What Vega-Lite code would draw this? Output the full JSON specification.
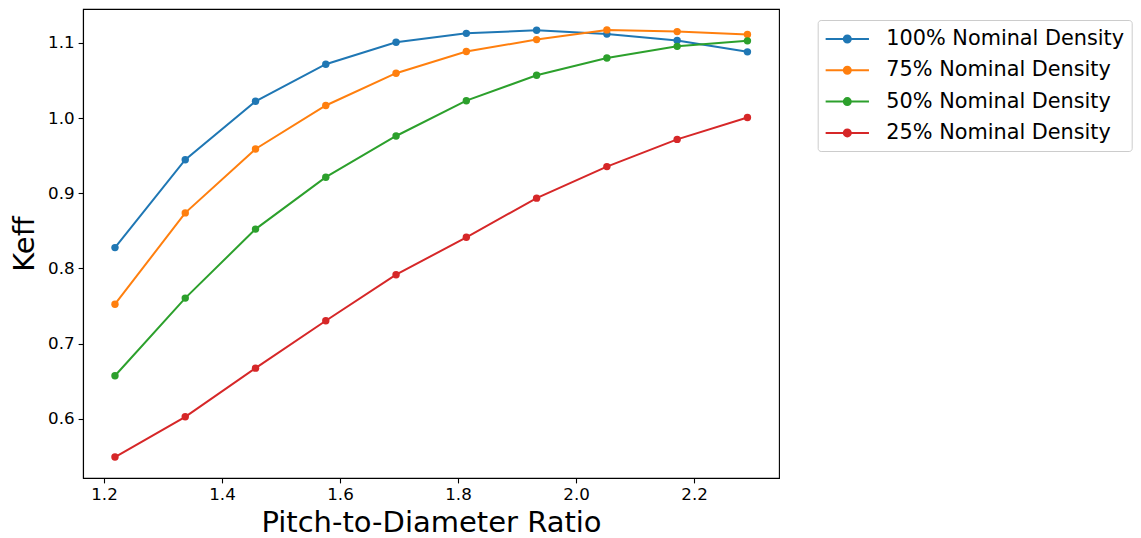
{
  "$schema": "https://vega.github.io/schema/vega-lite/v6.json",
  "width": 696,
  "height": 469,
  "autosize": {"type": "none"},
  "padding": {"left": 83, "top": 9, "right": 362, "bottom": 60},
  "background": "white",
  "config": {
    "font": "DejaVu Sans",
    "view": {"stroke": "black", "strokeWidth": 1.1},
    "axis": {
      "grid": false,
      "domainColor": "black",
      "domainWidth": 1.1,
      "tickColor": "black",
      "tickWidth": 1.1,
      "tickSize": 4.9,
      "labelPadding": 4,
      "labelFont": "DejaVu Sans",
      "labelFontSize": 16.7,
      "labelColor": "black",
      "titleFont": "DejaVu Sans",
      "titleFontSize": 29,
      "titleFontWeight": "normal",
      "titleColor": "black"
    }
  },
  "data": {
    "values": [
      {"pd": 1.2186, "keff": 0.8277, "series": "100% Nominal Density"},
      {"pd": 1.3377, "keff": 0.9447, "series": "100% Nominal Density"},
      {"pd": 1.4568, "keff": 1.0224, "series": "100% Nominal Density"},
      {"pd": 1.5759, "keff": 1.0717, "series": "100% Nominal Density"},
      {"pd": 1.6950, "keff": 1.1009, "series": "100% Nominal Density"},
      {"pd": 1.8141, "keff": 1.1128, "series": "100% Nominal Density"},
      {"pd": 1.9332, "keff": 1.1169, "series": "100% Nominal Density"},
      {"pd": 2.0523, "keff": 1.1118, "series": "100% Nominal Density"},
      {"pd": 2.1714, "keff": 1.1032, "series": "100% Nominal Density"},
      {"pd": 2.2905, "keff": 1.0882, "series": "100% Nominal Density"},
      {"pd": 1.2186, "keff": 0.7524, "series": "75% Nominal Density"},
      {"pd": 1.3377, "keff": 0.8739, "series": "75% Nominal Density"},
      {"pd": 1.4568, "keff": 0.9589, "series": "75% Nominal Density"},
      {"pd": 1.5759, "keff": 1.0168, "series": "75% Nominal Density"},
      {"pd": 1.6950, "keff": 1.0598, "series": "75% Nominal Density"},
      {"pd": 1.8141, "keff": 1.0886, "series": "75% Nominal Density"},
      {"pd": 1.9332, "keff": 1.1045, "series": "75% Nominal Density"},
      {"pd": 2.0523, "keff": 1.1174, "series": "75% Nominal Density"},
      {"pd": 2.1714, "keff": 1.1151, "series": "75% Nominal Density"},
      {"pd": 2.2905, "keff": 1.1114, "series": "75% Nominal Density"},
      {"pd": 1.2186, "keff": 0.6572, "series": "50% Nominal Density"},
      {"pd": 1.3377, "keff": 0.7605, "series": "50% Nominal Density"},
      {"pd": 1.4568, "keff": 0.8523, "series": "50% Nominal Density"},
      {"pd": 1.5759, "keff": 0.9214, "series": "50% Nominal Density"},
      {"pd": 1.6950, "keff": 0.9762, "series": "50% Nominal Density"},
      {"pd": 1.8141, "keff": 1.0232, "series": "50% Nominal Density"},
      {"pd": 1.9332, "keff": 1.0570, "series": "50% Nominal Density"},
      {"pd": 2.0523, "keff": 1.0800, "series": "50% Nominal Density"},
      {"pd": 2.1714, "keff": 1.0955, "series": "50% Nominal Density"},
      {"pd": 2.2905, "keff": 1.1028, "series": "50% Nominal Density"},
      {"pd": 1.2186, "keff": 0.5490, "series": "25% Nominal Density"},
      {"pd": 1.3377, "keff": 0.6025, "series": "25% Nominal Density"},
      {"pd": 1.4568, "keff": 0.6673, "series": "25% Nominal Density"},
      {"pd": 1.5759, "keff": 0.7304, "series": "25% Nominal Density"},
      {"pd": 1.6950, "keff": 0.7916, "series": "25% Nominal Density"},
      {"pd": 1.8141, "keff": 0.8414, "series": "25% Nominal Density"},
      {"pd": 1.9332, "keff": 0.8935, "series": "25% Nominal Density"},
      {"pd": 2.0523, "keff": 0.9355, "series": "25% Nominal Density"},
      {"pd": 2.1714, "keff": 0.9717, "series": "25% Nominal Density"},
      {"pd": 2.2905, "keff": 1.0008, "series": "25% Nominal Density"}
    ]
  },
  "mark": {"type": "line", "strokeWidth": 2, "point": {"filled": true, "size": 55, "opacity": 1}},
  "encoding": {
    "x": {
      "field": "pd",
      "type": "quantitative",
      "scale": {"domain": [1.1644, 2.344], "nice": false, "zero": false},
      "axis": {"values": [1.2, 1.4, 1.6, 1.8, 2.0, 2.2], "format": ".1f", "title": "Pitch-to-Diameter Ratio", "titlePadding": 5}
    },
    "y": {
      "field": "keff",
      "type": "quantitative",
      "scale": {"domain": [0.5211, 1.1452], "nice": false, "zero": false},
      "axis": {"values": [0.6, 0.7, 0.8, 0.9, 1.0, 1.1], "format": ".1f", "title": "Keff", "titlePadding": 8}
    },
    "color": {
      "field": "series",
      "type": "nominal",
      "scale": {
        "domain": ["100% Nominal Density", "75% Nominal Density", "50% Nominal Density", "25% Nominal Density"],
        "range": ["#1f77b4", "#ff7f0e", "#2ca02c", "#d62728"]
      },
      "legend": {
        "title": null,
        "orient": "none",
        "legendX": 734.7,
        "legendY": 11,
        "padding": 7.5,
        "rowPadding": 9.3,
        "strokeColor": "#cccccc",
        "fillColor": "white",
        "cornerRadius": 3,
        "labelFont": "DejaVu Sans",
        "labelFontSize": 20.8,
        "labelColor": "black",
        "labelOffset": 27.5,
        "labelLimit": 400,
        "symbolType": "M-2.082,0L2.082,0M0.337,0A0.337,0.337,0,1,1,-0.337,0A0.337,0.337,0,1,1,0.337,0Z",
        "symbolSize": 433,
        "symbolOffset": 10.6,
        "symbolStrokeWidth": 2,
        "symbolOpacity": 1,
        "encode": {
          "symbols": {
            "update": {
              "fill": {"scale": "color", "field": "value"},
              "stroke": {"scale": "color", "field": "value"},
              "fillOpacity": {"value": 1}
            }
          }
        }
      }
    }
  }
}
